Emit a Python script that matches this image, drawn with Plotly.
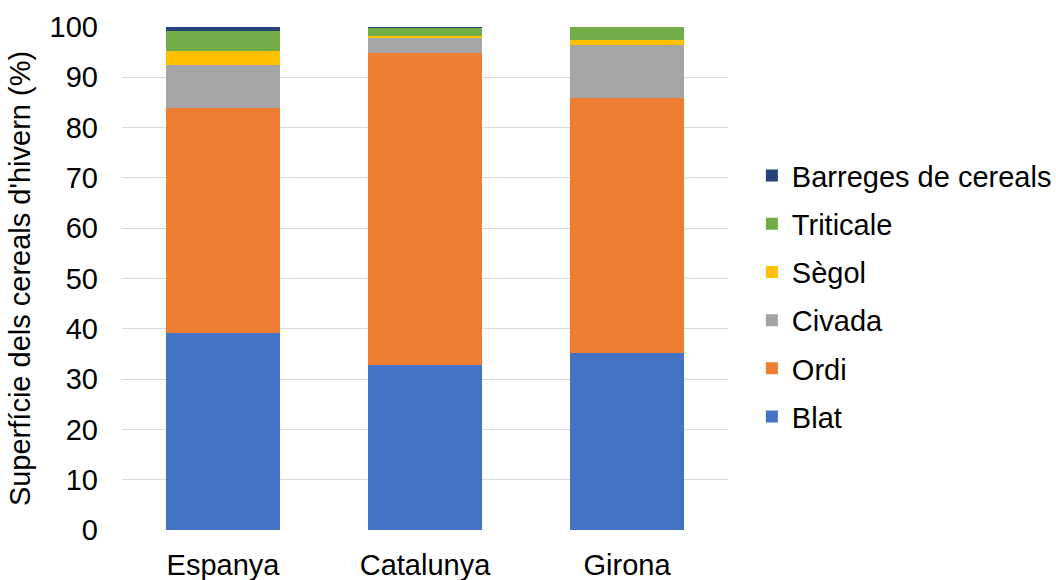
import plotly.graph_objects as go

# Winter cereal area share by region (%)
regions = ["Espanya", "Catalunya", "Girona"]
blat = [39.2, 32.8, 35.2]
ordi = [44.7, 62.1, 50.7]
civada = [8.5, 2.9, 10.6]
segol = [2.8, 0.4, 0.9]
triticale = [4.0, 1.7, 2.6]
barreges = [0.8, 0.1, 0.0]

series = [
    ("Blat", blat, "#4472C4"),
    ("Ordi", ordi, "#ED7D31"),
    ("Civada", civada, "#A5A5A5"),
    ("Sègol", segol, "#FFC000"),
    ("Triticale", triticale, "#70AD47"),
    ("Barreges de cereals", barreges, "#264478"),
]

FONT = "Liberation Sans, Arial, sans-serif"

fig = go.Figure()
for i, (name, vals, color) in enumerate(series):
    fig.add_trace(go.Bar(
        name=name, x=regions, y=vals, legendgroup=name,
        legendrank=len(series) - i,
        marker=dict(color=color, line=dict(width=0)),
    ))

fig.update_layout(
    barmode="stack",
    bargap=0.436,
    width=1056, height=580,
    margin=dict(l=122, r=328, t=27, b=50),
    paper_bgcolor="white",
    plot_bgcolor="white",
    font=dict(family=FONT, size=29, color="#000000"),
    legend=dict(
        traceorder="grouped",
        xref="container", yref="container",
        x=0.712, xanchor="left",
        y=0.491, yanchor="middle",
        font=dict(size=29),
        itemwidth=30,
        tracegroupgap=7.5,
    ),
    xaxis=dict(
        showgrid=False, showline=False, ticks="",
        ticklabelstandoff=15, automargin=False,
        tickfont=dict(size=29),
    ),
    yaxis=dict(
        range=[0, 100], dtick=10,
        showgrid=True, gridcolor="#D9D9D9", gridwidth=1,
        zeroline=False, showline=False, automargin=False,
        ticklabelstandoff=23,
        tickfont=dict(size=29),
        title=dict(text="Superfície dels cereals d'hivern (%)",
                   font=dict(size=29), standoff=10),
    ),
)

fig.write_html("out.html")
